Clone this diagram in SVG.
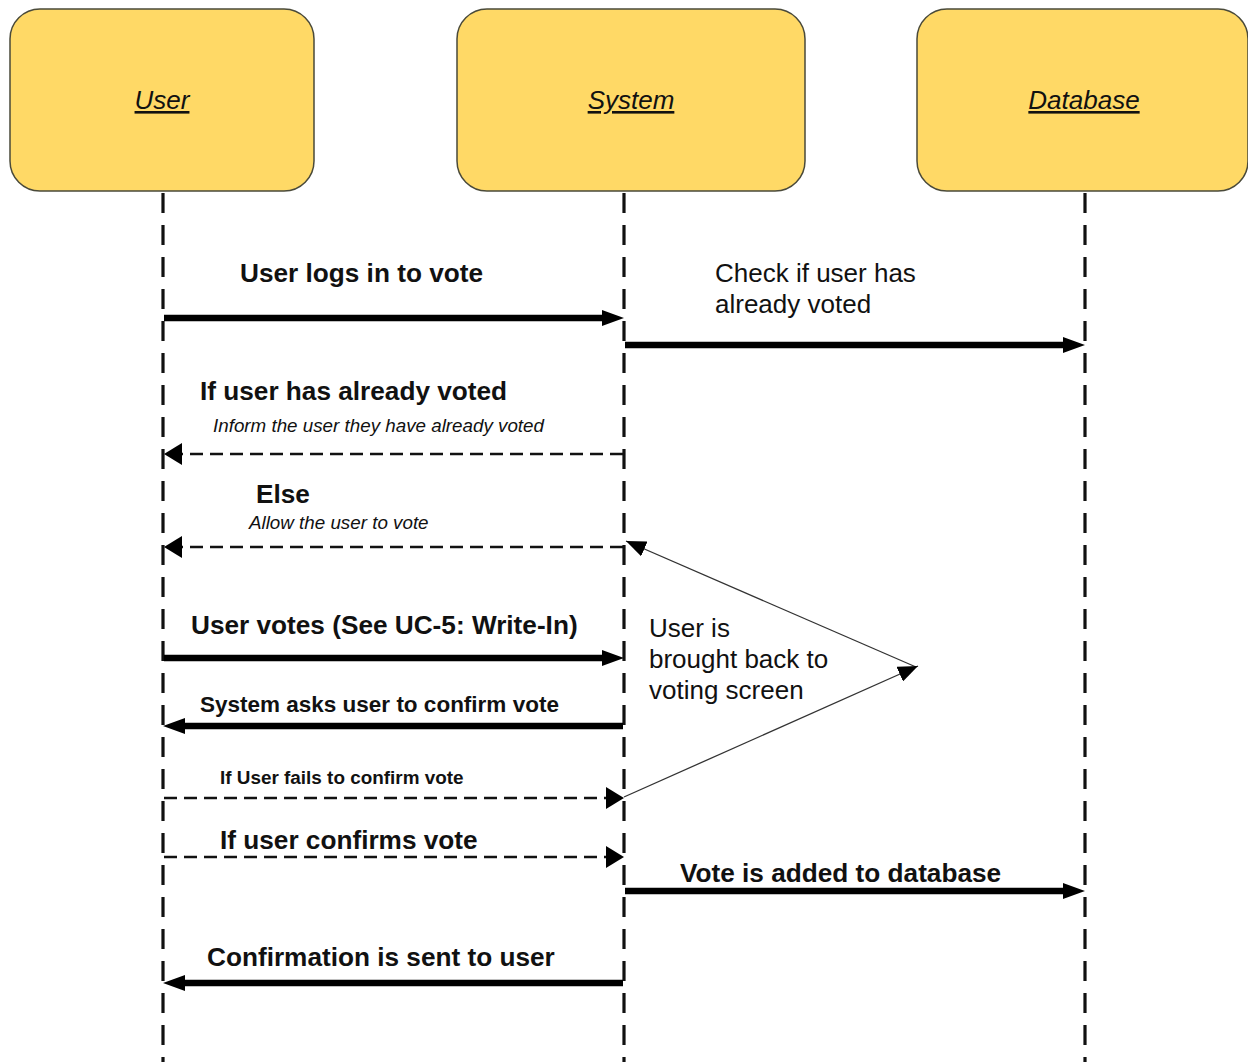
<svg xmlns="http://www.w3.org/2000/svg" width="1248" height="1062" viewBox="0 0 1248 1062">
  <style>
    .actor { fill: #ffd966; stroke: #4a4a3a; stroke-width: 1.5; }
    .actor-label { font-family: "Liberation Sans", Arial, sans-serif; font-size: 26px; font-style: italic; text-decoration: underline; fill: #111; text-anchor: middle; }
    .lifeline { stroke: #111; stroke-width: 3.2; stroke-dasharray: 20 12; fill: none; }
    .msg { stroke: #000; stroke-width: 6.5; fill: none; }
    .msg-dash { stroke: #111; stroke-width: 2.5; stroke-dasharray: 13 7; fill: none; }
    .note-link { stroke: #333; stroke-width: 1.3; fill: none; }
    .t { font-family: "Liberation Sans", Arial, sans-serif; fill: #111; }
    .b { font-weight: bold; font-size: 26.2px; }
    .r { font-size: 26px; }
    .i { font-style: italic; font-size: 18.8px; }
  </style>
  <defs>
    <marker id="head-solid" markerUnits="userSpaceOnUse" viewBox="0 0 22 16" refX="10" refY="8" markerWidth="22" markerHeight="16" orient="auto">
      <path d="M0,0 L22,8 L0,16 z" fill="#000"/>
    </marker>
    <marker id="head-dash" markerUnits="userSpaceOnUse" viewBox="0 0 18 22" refX="4" refY="11" markerWidth="18" markerHeight="22" orient="auto">
      <path d="M0,0 L18,11 L0,22 z" fill="#000"/>
    </marker>
    <marker id="head-thin" markerUnits="userSpaceOnUse" viewBox="0 0 20 16" refX="20" refY="8" markerWidth="20" markerHeight="16" orient="auto">
      <path d="M0,0 L20,8 L0,16 z" fill="#000"/>
    </marker>
  </defs>

  <!-- participants -->
  <g id="user">
    <rect class="actor" x="10" y="9" width="304" height="182" rx="30"/>
    <text class="actor-label" x="162" y="109">User</text>
  </g>
  <g id="system">
    <rect class="actor" x="457" y="9" width="348" height="182" rx="30"/>
    <text class="actor-label" x="631" y="109">System</text>
  </g>
  <g id="database">
    <rect class="actor" x="917" y="9" width="331" height="182" rx="30"/>
    <text class="actor-label" x="1084" y="109">Database</text>
  </g>

  <!-- lifelines -->
  <g id="lifelines">
    <line class="lifeline" x1="163" y1="193" x2="163" y2="1062"/>
    <line class="lifeline" x1="624" y1="193" x2="624" y2="1062"/>
    <line class="lifeline" x1="1085" y1="193" x2="1085" y2="1062"/>
  </g>

  <!-- messages -->
  <g id="connectors">
    <line class="msg" x1="164" y1="318" x2="612" y2="318" marker-end="url(#head-solid)"/>
    <line class="msg" x1="625" y1="345" x2="1073" y2="345" marker-end="url(#head-solid)"/>
    <line class="msg-dash" x1="623" y1="454" x2="178" y2="454" marker-end="url(#head-dash)"/>
    <line class="msg-dash" x1="623" y1="547" x2="178" y2="547" marker-end="url(#head-dash)"/>
    <line class="msg" x1="164" y1="658" x2="612" y2="658" marker-end="url(#head-solid)"/>
    <line class="msg" x1="623" y1="726" x2="175" y2="726" marker-end="url(#head-solid)"/>
    <line class="msg-dash" x1="164" y1="798" x2="610" y2="798" marker-end="url(#head-dash)"/>
    <line class="msg-dash" x1="164" y1="857" x2="610" y2="857" marker-end="url(#head-dash)"/>
    <line class="msg" x1="625" y1="891" x2="1073" y2="891" marker-end="url(#head-solid)"/>
    <line class="msg" x1="623" y1="983" x2="175" y2="983" marker-end="url(#head-solid)"/>
    <!-- loop back to the voting screen -->
    <line class="note-link" x1="916" y1="667" x2="626" y2="541" marker-end="url(#head-thin)"/>
    <line class="note-link" x1="624" y1="797" x2="918" y2="666" marker-end="url(#head-thin)"/>
  </g>

  <!-- message labels -->
  <g id="labels">
    <text class="t b" x="240" y="282">User logs in to vote</text>
    <text class="t r" x="715" y="282">Check if user has</text>
    <text class="t r" x="715" y="313">already voted</text>
    <text class="t b" x="200" y="400">If user has already voted</text>
    <text class="t i" x="213" y="432">Inform the user they have already voted</text>
    <text class="t b" x="256" y="503">Else</text>
    <text class="t i" x="249" y="529">Allow the user to vote</text>
    <text class="t b" x="191" y="634">User votes (See UC-5: Write-In)</text>
    <text class="t b" x="200" y="712" style="font-size:22.5px">System asks user to confirm vote</text>
    <text class="t b" x="220" y="784" style="font-size:18.9px">If User fails to confirm vote</text>
    <text class="t b" x="220" y="849">If user confirms vote</text>
    <text class="t b" x="680" y="882">Vote is added to database</text>
    <text class="t b" x="207" y="966">Confirmation is sent to user</text>
    <text class="t r" x="649" y="637">User is</text>
    <text class="t r" x="649" y="668">brought back to</text>
    <text class="t r" x="649" y="699">voting screen</text>
  </g>
</svg>
